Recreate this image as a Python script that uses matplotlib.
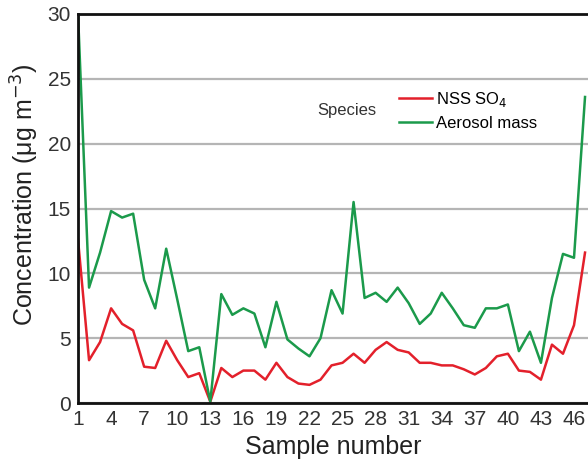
import matplotlib
matplotlib.use("Agg")
import matplotlib.pyplot as plt

plt.rcParams['font.family'] = ['Liberation Sans', 'DejaVu Sans']

# sample numbers and concentrations (ug m-3)
samples = list(range(1, 48))
nss_so4 = [12.6, 3.3, 4.7, 7.3, 6.1, 5.6, 2.8, 2.7, 4.8, 3.3,
           2.0, 2.3, 0.1, 2.7, 2.0, 2.5, 2.5, 1.8, 3.1, 2.0,
           1.5, 1.4, 1.8, 2.9, 3.1, 3.8, 3.1, 4.1, 4.7, 4.1,
           3.9, 3.1, 3.1, 2.9, 2.9, 2.6, 2.2, 2.7, 3.6, 3.8,
           2.5, 2.4, 1.8, 4.5, 3.8, 6.0, 11.6]
aerosol = [30.0, 8.9, 11.6, 14.8, 14.3, 14.6, 9.5, 7.3, 11.9, 8.0,
           4.0, 4.3, 0.1, 8.4, 6.8, 7.3, 6.9, 4.3, 7.8, 4.9,
           4.2, 3.6, 5.0, 8.7, 6.9, 15.5, 8.1, 8.5, 7.8, 8.9,
           7.7, 6.1, 6.9, 8.5, 7.3, 6.0, 5.8, 7.3, 7.3, 7.6,
           4.0, 5.5, 3.1, 8.1, 11.5, 11.2, 23.6]
xticks = list(range(1, 47, 3))
yticks = [0, 5, 10, 15, 20, 25, 30]

fig = plt.figure(figsize=(5.88, 4.62), dpi=100)
ax = fig.add_axes([0.1327, 0.1277, 0.8673, 0.842])

l1, = ax.plot(samples, nss_so4, color='#e3202b', lw=1.8, label='NSS SO$_4$')
l2, = ax.plot(samples, aerosol, color='#1b9a4b', lw=1.8, label='Aerosol mass')

ax.set_xlim(1, 47.27)
ax.set_ylim(0, 30)
ax.set_xticks(xticks)
ax.set_yticks(yticks)
ax.tick_params(length=0, labelsize=15, pad=5, colors='#333333')
ax.yaxis.grid(True, color='#b5b5b5', lw=1.6)
ax.set_axisbelow(True)

for s in ['left', 'bottom', 'top']:
    ax.spines[s].set_linewidth(2)
    ax.spines[s].set_color('#111111')
ax.spines['right'].set_visible(False)

ax.set_xlabel('Sample number', fontsize=18, color='#222222', labelpad=4)
ax.set_ylabel('Concentration (\u03bcg m$^{-3}$)', fontsize=18, color='#222222')
ax.yaxis.set_label_coords(-0.073, 0.535)

leg = ax.legend(handles=[l1, l2], frameon=False, fontsize=12, loc='upper left',
                bbox_to_anchor=(0.616, 0.823), handlelength=2.0, handletextpad=0.2,
                labelspacing=0.45, borderaxespad=0)
fig.text(0.54, 0.76, 'Species', fontsize=12, color='#333333', va='center')

fig.savefig('out.png', dpi=100)
